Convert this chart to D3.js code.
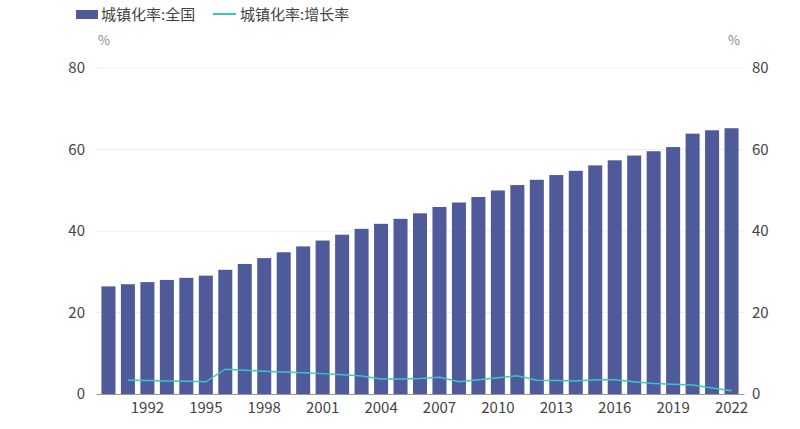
<!DOCTYPE html>
<html><head><meta charset="utf-8">
<script src="https://cdn.jsdelivr.net/npm/d3@7"></script>
<style>body{margin:0;background:#fff;font-family:"Noto Sans CJK SC","Noto Sans",sans-serif;}</style>
</head><body><svg id="c" width="800" height="429"></svg>
<script>
const years = d3.range(1990, 2023);
const urbanRate = [26.41,26.94,27.46,27.99,28.51,29.04,30.48,31.91,33.35,34.78,36.22,37.66,39.09,40.53,41.76,42.99,44.34,45.89,46.99,48.34,49.95,51.27,52.57,53.73,54.77,56.10,57.35,58.52,59.58,60.60,63.89,64.72,65.22];
const growthYears = d3.range(1991, 2023);
const growthRate = [3.4,3.3,3.2,3.1,3.0,6.1,5.8,5.6,5.4,5.2,5.0,4.7,4.4,3.7,3.7,3.8,4.1,3.0,3.5,4.0,4.5,3.4,3.3,3.2,3.5,3.5,3.0,2.6,2.4,2.2,1.5,0.8];
const tickYears = [1992,1995,1998,2001,2004,2007,2010,2013,2016,2019,2022];
const yTicks = [0,20,40,60,80];

const svg = d3.select("#c");
const mLeft = 96, mRight = 744, mTop = 68, mBottom = 394;

const x = d3.scaleBand().domain(years).range([mLeft, mRight]).padding(0.28);
const y = d3.scaleLinear().domain([0, 80]).range([mBottom, mTop]);

// grid
svg.append("g").selectAll("line").data(yTicks.slice(1)).join("line")
  .attr("x1", mLeft).attr("x2", mRight)
  .attr("y1", d => y(d)).attr("y2", d => y(d))
  .attr("stroke", "#eceef3");

// bars
svg.append("g").attr("fill", "#4e5a9a").selectAll("rect").data(years).join("rect")
  .attr("x", d => x(d)).attr("width", x.bandwidth())
  .attr("y", (d, i) => y(urbanRate[i]))
  .attr("height", (d, i) => y(0) - y(urbanRate[i]));

// line
const line = d3.line().x(d => x(d[0]) + x.bandwidth() / 2).y(d => y(d[1]));
svg.append("path").datum(growthYears.map((d, i) => [d, growthRate[i]]))
  .attr("d", line).attr("fill", "none").attr("stroke", "#3cc6c0").attr("stroke-width", 1.5);

// axes
const xa = svg.append("g").attr("transform", `translate(0,${mBottom})`)
  .call(d3.axisBottom(x).tickValues(tickYears).tickSize(0).tickPadding(8));
xa.select(".domain").attr("stroke", "#999");
const yl = svg.append("g").attr("transform", `translate(${mLeft - 11},0)`)
  .call(d3.axisLeft(y).tickValues(yTicks).tickSize(0).tickPadding(0));
const yr = svg.append("g").attr("transform", `translate(${mRight + 8},0)`)
  .call(d3.axisRight(y).tickValues(yTicks).tickSize(0).tickPadding(0));
yl.select(".domain").remove(); yr.select(".domain").remove();
svg.selectAll(".tick text").attr("font-size", 15).attr("fill", "#444")
  .attr("font-family", "'Noto Sans CJK SC', sans-serif");

svg.append("text").attr("x", 98).attr("y", 45).text("%").attr("font-size", 13).attr("fill", "#888");
svg.append("text").attr("x", 728).attr("y", 45).text("%").attr("font-size", 13).attr("fill", "#888");

// legend
const lg = svg.append("g").attr("font-size", 15).attr("fill", "#444");
lg.append("rect").attr("x", 76).attr("y", 10).attr("width", 22).attr("height", 9).attr("fill", "#4e5a9a");
lg.append("text").attr("x", 101).attr("y", 20).text("城镇化率:全国");
lg.append("line").attr("x1", 213).attr("x2", 236).attr("y1", 14).attr("y2", 14).attr("stroke", "#3cc6c0").attr("stroke-width", 2);
lg.append("text").attr("x", 240).attr("y", 20).text("城镇化率:增长率");
</script></body></html>
